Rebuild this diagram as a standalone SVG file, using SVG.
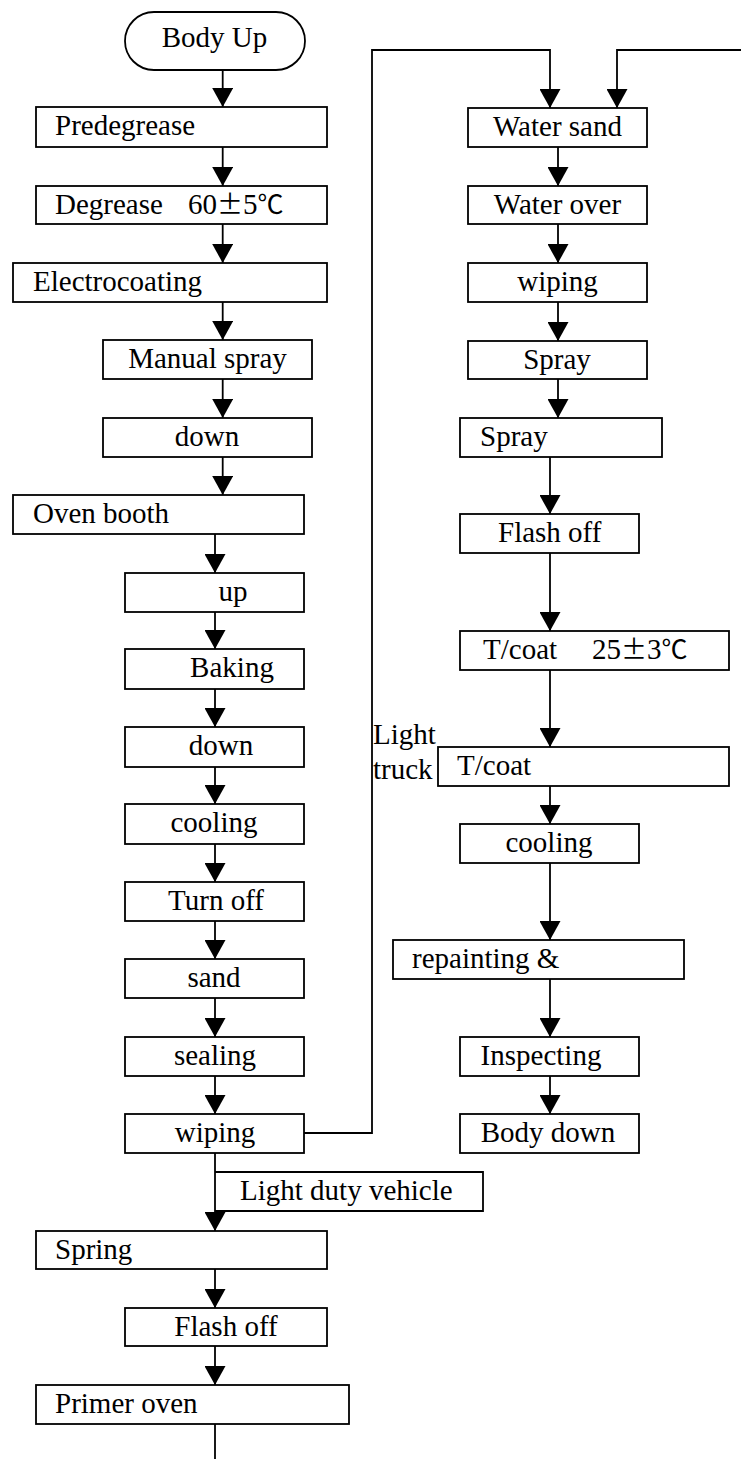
<svg xmlns="http://www.w3.org/2000/svg" width="741" height="1459" viewBox="0 0 741 1459">
<style>
.b{fill:#fff;stroke:#000;stroke-width:1.8}
.t{font-family:"Liberation Serif","Times New Roman","Noto Sans CJK SC",serif;font-size:29px;fill:#000}
.c{text-anchor:middle}
.k{font-family:"Noto Sans CJK SC","Liberation Serif",serif;font-size:26px}
.l{fill:none;stroke:#000;stroke-width:1.8}
.a{marker-end:url(#ah)}
</style>
<defs>
<marker id="ah" markerUnits="userSpaceOnUse" markerWidth="20" markerHeight="21" refX="19" refY="10.5" orient="auto">
<path d="M0,0 L19,10.5 L0,21 z" fill="#000"/>
</marker>
</defs>
<rect width="741" height="1459" fill="#fff"/>
<g id="connectors">
<path class="l a" d="M222.7,70 V107"/>
<path class="l a" d="M222.7,147 V186"/>
<path class="l a" d="M222.7,224 V263"/>
<path class="l a" d="M222.7,302 V340"/>
<path class="l a" d="M222.7,379 V418"/>
<path class="l a" d="M222.7,457 V495"/>
<path class="l a" d="M215,534 V573"/>
<path class="l a" d="M215,612 V649"/>
<path class="l a" d="M215,689 V727"/>
<path class="l a" d="M215,767 V804"/>
<path class="l a" d="M215,844 V882"/>
<path class="l a" d="M215,921 V959"/>
<path class="l a" d="M215,998 V1037"/>
<path class="l a" d="M215,1076 V1114"/>
<path class="l a" d="M215,1153 V1231"/>
<path class="l a" d="M215,1269 V1308"/>
<path class="l a" d="M215,1346 V1385"/>
<path class="l" d="M215,1424 V1459"/>
<path class="l a" d="M304,1133 H372 V50 H550 V108"/>
<path class="l a" d="M741,50 H617 V108"/>
<path class="l a" d="M558,147 V186"/>
<path class="l a" d="M558,224 V263"/>
<path class="l a" d="M558,302 V341"/>
<path class="l a" d="M558,379 V418"/>
<path class="l a" d="M550,457 V514"/>
<path class="l a" d="M550,553 V631"/>
<path class="l a" d="M550,670 V747"/>
<path class="l a" d="M550,786 V824"/>
<path class="l a" d="M550,863 V940"/>
<path class="l a" d="M550,979 V1037"/>
<path class="l a" d="M550,1076 V1114"/>
</g>
<g id="body-up"><rect class="b" x="125" y="12" width="180" height="58" rx="29"/><text class="t c" x="214.5" y="47">Body Up</text></g>
<g id="predegrease"><rect class="b" x="36" y="107" width="291" height="40"/><text class="t" x="55" y="135">Predegrease</text></g>
<g id="degrease"><rect class="b" x="36" y="186" width="291" height="38"/><text class="t" x="55" y="214">Degrease <tspan x="188">60</tspan><tspan class="k">±</tspan>5<tspan class="k">℃</tspan></text></g>
<g id="electrocoating"><rect class="b" x="13" y="263" width="314" height="39"/><text class="t" x="33" y="291">Electrocoating</text></g>
<g id="manual-spray"><rect class="b" x="103" y="340" width="209" height="39"/><text class="t c" x="207.5" y="368">Manual spray</text></g>
<g id="down1"><rect class="b" x="103" y="418" width="209" height="39"/><text class="t c" x="207" y="446">down</text></g>
<g id="oven-booth"><rect class="b" x="13" y="495" width="291" height="39"/><text class="t" x="33" y="523">Oven booth</text></g>
<g id="up"><rect class="b" x="125" y="573" width="179" height="39"/><text class="t c" x="233" y="601">up</text></g>
<g id="baking"><rect class="b" x="125" y="649" width="179" height="40"/><text class="t c" x="232" y="677">Baking</text></g>
<g id="down2"><rect class="b" x="125" y="727" width="179" height="40"/><text class="t c" x="221" y="755">down</text></g>
<g id="cooling1"><rect class="b" x="125" y="804" width="179" height="40"/><text class="t c" x="214" y="832">cooling</text></g>
<g id="turn-off"><rect class="b" x="125" y="882" width="179" height="39"/><text class="t c" x="216" y="910">Turn off</text></g>
<g id="sand"><rect class="b" x="125" y="959" width="179" height="39"/><text class="t c" x="214" y="987">sand</text></g>
<g id="sealing"><rect class="b" x="125" y="1037" width="179" height="39"/><text class="t c" x="215" y="1065">sealing</text></g>
<g id="wiping1"><rect class="b" x="125" y="1114" width="179" height="39"/><text class="t c" x="215" y="1142">wiping</text></g>
<g id="light-duty"><path class="l" d="M215,1172 H483 V1211 H215"/><text class="t" x="240" y="1200">Light duty vehicle</text></g>
<g id="spring"><rect class="b" x="36" y="1231" width="291" height="38"/><text class="t" x="55" y="1259">Spring</text></g>
<g id="flash-off1"><rect class="b" x="125" y="1308" width="202" height="38"/><text class="t c" x="226" y="1336">Flash off</text></g>
<g id="primer-oven"><rect class="b" x="36" y="1385" width="313" height="39"/><text class="t" x="55" y="1413">Primer oven</text></g>
<g id="water-sand"><rect class="b" x="468" y="108" width="179" height="39"/><text class="t c" x="557.5" y="136">Water sand</text></g>
<g id="water-over"><rect class="b" x="468" y="186" width="179" height="38"/><text class="t c" x="557.5" y="214">Water over</text></g>
<g id="wiping2"><rect class="b" x="468" y="263" width="179" height="39"/><text class="t c" x="557.5" y="291">wiping</text></g>
<g id="spray1"><rect class="b" x="468" y="341" width="179" height="38"/><text class="t c" x="557" y="369">Spray</text></g>
<g id="spray2"><rect class="b" x="460" y="418" width="202" height="39"/><text class="t" x="480" y="446">Spray</text></g>
<g id="flash-off2"><rect class="b" x="460" y="514" width="179" height="39"/><text class="t c" x="549.7" y="542">Flash off</text></g>
<g id="tcoat1"><rect class="b" x="460" y="631" width="269" height="39"/><text class="t" x="483" y="659">T/coat <tspan x="592">25</tspan><tspan class="k">±</tspan>3<tspan class="k">℃</tspan></text></g>
<g id="tcoat2"><rect class="b" x="438" y="747" width="291" height="39"/><text class="t" x="457" y="775">T/coat</text><text class="t" x="373" y="744">Light</text><text class="t" x="373" y="779">truck</text></g>
<g id="cooling2"><rect class="b" x="460" y="824" width="179" height="39"/><text class="t c" x="549" y="852">cooling</text></g>
<g id="repainting"><rect class="b" x="393" y="940" width="291" height="39"/><text class="t" x="412" y="968">repainting &amp;</text></g>
<g id="inspecting"><rect class="b" x="460" y="1037" width="179" height="39"/><text class="t c" x="541" y="1065">Inspecting</text></g>
<g id="body-down"><rect class="b" x="460" y="1114" width="179" height="39"/><text class="t c" x="548" y="1142">Body down</text></g>
</svg>
